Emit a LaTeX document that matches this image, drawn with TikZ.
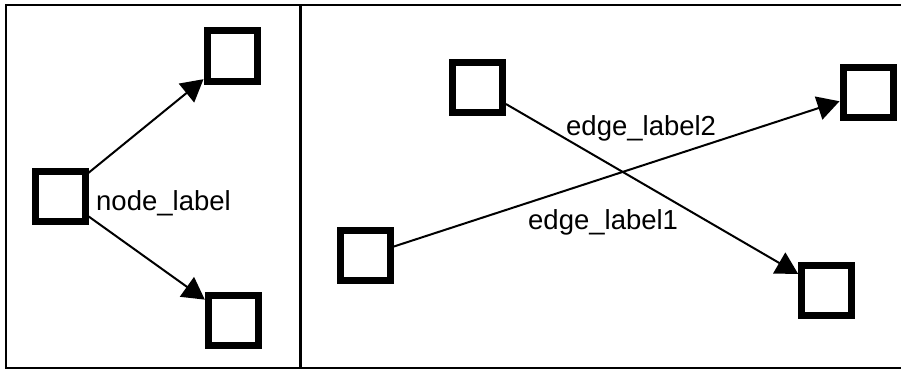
\documentclass[tikz,border=0pt]{standalone}
\usepackage{fontspec}
\setmainfont{Liberation Sans}
\usetikzlibrary{arrows.meta}
\begin{document}
\begin{tikzpicture}[x=1pt,y=-1pt,
  box/.style={draw=black,line width=7pt,minimum size=50pt,inner sep=0pt,fill=white},
  conn/.style={draw=black,line width=2pt,-{Triangle[length=22pt,width=24pt]}},
  txt/.style={inner sep=0pt,anchor=base west,font=\fontsize{27.5}{33}\selectfont},
  frame/.style={draw=black,line width=2pt}]
\useasboundingbox (0,0) rectangle (901,369);
\clip (0,0) rectangle (901,369);

% outer frame and divider between the two panels
\draw[frame] (901,5) -- (6,5) -- (6,367.8) -- (901,367.8);
\draw[frame,line width=3pt] (300,5) -- (300,367.8);

% left panel: one node with a label, two successors
\node[box] (m)  at (60,196)    {};
\node[box] (t)  at (232,56)    {};
\node[box] (b)  at (233.3,320) {};
\node[txt] (nl) at (96,210) {node\_label};
\draw[conn] (m) -- (t);
\draw[conn] (m) -- (b);

% right panel: two crossing labelled edges
\node[box] (p) at (477.5,87.5)  {};
\node[box] (q) at (826.7,290.5) {};
\node[box] (r) at (365.3,255.8) {};
\node[box] (s) at (868,92)      {};
\draw[conn] (p) -- (q);
\draw[conn] (r) -- (s);
\node[txt] (e2) at (566,135) {edge\_label2};
\node[txt] (e1) at (528,229) {edge\_label1};
\end{tikzpicture}
\end{document}
